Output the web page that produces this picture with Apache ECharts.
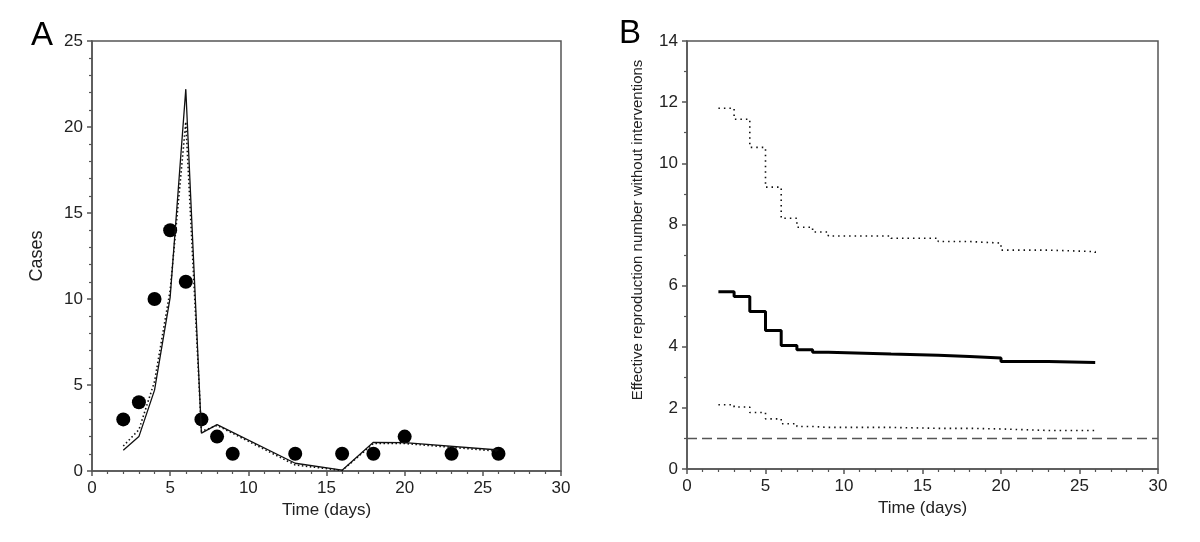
<!DOCTYPE html>
<html>
<head>
<meta charset="utf-8">
<script src="https://cdn.jsdelivr.net/npm/echarts@6/dist/echarts.min.js"></script>
<style>
  html, body { margin: 0; padding: 0; background: #fff; }
  #main { width: 1200px; height: 542px; }
</style>
</head>
<body>
<div id="main"></div>
<script>
// panel A: observed cases and the two model fits
var caseTimes = [2, 3, 4, 5, 6, 7, 8, 9, 13, 16, 18, 20, 23, 26];
var observedCases = [3, 4, 10, 14, 11, 3, 2, 1, 1, 1, 1, 2, 1, 1];
var fitTimes = [2, 3, 4, 5, 6, 7, 8, 13, 16, 18, 20, 26];
var fitSolid = [1.2, 2.0, 4.7, 10.1, 22.2, 2.2, 2.7, 0.45, 0.05, 1.67, 1.65, 1.22];
var fitDotted = [1.45, 2.4, 5.2, 10.5, 20.3, 2.3, 2.65, 0.35, 0.03, 1.6, 1.6, 1.15];

// panel B: effective reproduction number (mean and bounds)
var rtTimes = [2, 3, 4, 5, 6, 7, 8, 9, 13, 16, 18, 20, 23, 26];
var rtMean = [5.8, 5.64, 5.15, 4.53, 4.04, 3.9, 3.82, 3.76, 3.72, 3.68, 3.63, 3.52, 3.48, 3.48];
var rtUpper = [11.8, 11.44, 10.52, 9.22, 8.2, 7.91, 7.75, 7.62, 7.55, 7.44, 7.39, 7.16, 7.11, 7.06];
var rtLower = [2.1, 2.03, 1.85, 1.64, 1.48, 1.39, 1.36, 1.36, 1.33, 1.33, 1.31, 1.26, 1.26, 1.26];
var thresholdX = [0, 30];
var thresholdY = [1, 1];

function pairs(xs, ys) {
    var out = [];
    for (var i = 0; i < xs.length; i++) {
        out.push([xs[i], ys[i]]);
    }
    return out;
}

var fontName = '"Liberation Sans", Arial, sans-serif';
var axisColor = '#555';
var textColor = '#222';

function makeXAxis(idx) {
    return {
        type: 'value', gridIndex: idx, min: 0, max: 30, interval: 5,
        name: 'Time (days)', nameLocation: 'middle', nameGap: 31,
        nameTextStyle: {fontFamily: fontName, fontSize: 17, color: textColor},
        axisLine: {show: true, onZero: false, lineStyle: {color: axisColor, width: 1.5}},
        axisTick: {show: true, inside: false, length: 5, lineStyle: {color: axisColor, width: 1.5}},
        minorTick: {show: true, splitNumber: 5, length: 3, lineStyle: {color: axisColor, width: 1.2}},
        axisLabel: {fontFamily: fontName, fontSize: 17, color: textColor, margin: 9},
        splitLine: {show: false}
    };
}

function makeYAxis(idx, max, interval, minorSplit) {
    return {
        type: 'value', gridIndex: idx, min: 0, max: max, interval: interval,
        axisLine: {show: true, onZero: false, lineStyle: {color: axisColor, width: 1.5}},
        axisTick: {show: true, inside: false, length: 5, lineStyle: {color: axisColor, width: 1.5}},
        minorTick: {show: true, splitNumber: minorSplit, length: 3, lineStyle: {color: axisColor, width: 1.2}},
        axisLabel: {fontFamily: fontName, fontSize: 17, color: textColor, margin: 9},
        splitLine: {show: false}
    };
}

var yA = makeYAxis(0, 25, 5, 5);
yA.name = 'Cases';
yA.nameLocation = 'middle';
yA.nameGap = 46;
yA.nameTextStyle = {fontFamily: fontName, fontSize: 18, color: textColor};

var yB = makeYAxis(1, 14, 2, 2);

var myChart = echarts.init(document.getElementById('main'), null, {renderer: 'canvas'});
var option = {
    animation: false,
    backgroundColor: '#fff',
    grid: [
        {left: 92, right: 639, top: 41, bottom: 71, show: true, borderColor: axisColor, borderWidth: 1.5},
        {left: 687, right: 42, top: 41, bottom: 73, show: true, borderColor: axisColor, borderWidth: 1.5}
    ],
    xAxis: [makeXAxis(0), makeXAxis(1)],
    yAxis: [yA, yB],
    graphic: [
        {type: 'text', x: 42, y: 36, style: {text: 'A', font: '33px ' + fontName, fill: '#000', align: 'center', verticalAlign: 'middle'}},
        {type: 'text', x: 630, y: 34, style: {text: 'B', font: '33px ' + fontName, fill: '#000', align: 'center', verticalAlign: 'middle'}},
        {type: 'text', x: 638, y: 230, rotation: Math.PI / 2,
            style: {text: 'Effective reproduction number without interventions', font: '15px ' + fontName,
                fill: textColor, align: 'center', verticalAlign: 'middle'}}
    ],
    series: [
        {
            name: 'fit solid', type: 'line', xAxisIndex: 0, yAxisIndex: 0,
            data: pairs(fitTimes, fitSolid), showSymbol: false, symbol: 'none',
            lineStyle: {color: '#111', width: 1.3}
        },
        {
            name: 'fit dotted', type: 'line', xAxisIndex: 0, yAxisIndex: 0,
            data: pairs(fitTimes, fitDotted), showSymbol: false, symbol: 'none',
            lineStyle: {color: '#111', width: 1.6, type: [1.5, 2.5]}
        },
        {
            name: 'observed', type: 'scatter', xAxisIndex: 0, yAxisIndex: 0,
            data: pairs(caseTimes, observedCases), symbol: 'circle', symbolSize: 14,
            itemStyle: {color: '#000', opacity: 1}
        },
        {
            name: 'threshold', type: 'line', xAxisIndex: 1, yAxisIndex: 1,
            data: pairs(thresholdX, thresholdY), symbol: 'none',
            lineStyle: {color: '#555', width: 1.5, type: [10, 5]}
        },
        {
            name: 'upper', type: 'line', xAxisIndex: 1, yAxisIndex: 1, step: 'end',
            data: pairs(rtTimes, rtUpper), symbol: 'none',
            lineStyle: {color: '#111', width: 1.6, type: [1.5, 4]}
        },
        {
            name: 'lower', type: 'line', xAxisIndex: 1, yAxisIndex: 1, step: 'end',
            data: pairs(rtTimes, rtLower), symbol: 'none',
            lineStyle: {color: '#111', width: 1.6, type: [1.5, 4]}
        },
        {
            name: 'mean', type: 'line', xAxisIndex: 1, yAxisIndex: 1, step: 'end',
            data: pairs(rtTimes, rtMean), symbol: 'none',
            lineStyle: {color: '#000', width: 3}
        }
    ]
};
myChart.setOption(option);
</script>
</body>
</html>
